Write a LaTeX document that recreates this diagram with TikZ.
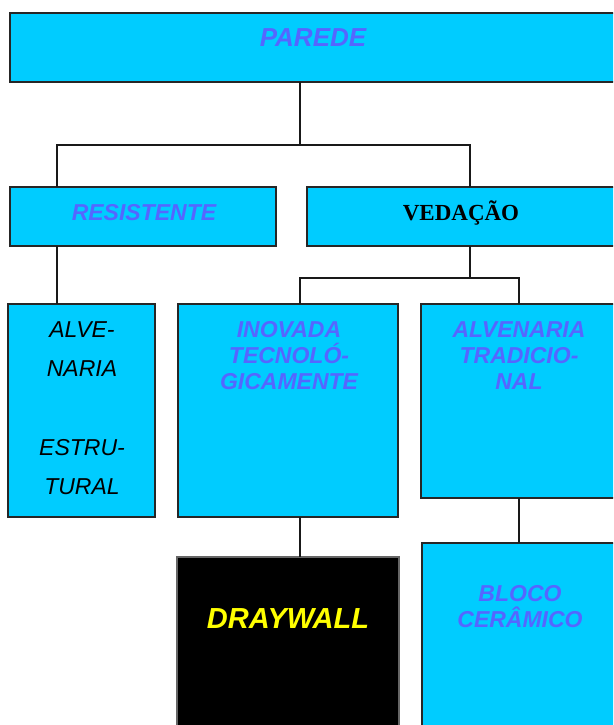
\documentclass[tikz,border=0pt]{standalone}
\usepackage{fontspec}
\setmainfont{Liberation Serif}
\newfontfamily\arialf{Liberation Sans}
\definecolor{cyanbox}{HTML}{00CCFF}
\definecolor{txtblue}{HTML}{5566FF}
\definecolor{drayyellow}{HTML}{FFFF00}
\begin{document}
\begin{tikzpicture}[x=1pt,y=-1pt,
  box/.style={draw=black!85, line width=2pt, fill=cyanbox, rectangle, inner sep=0, outer sep=0, anchor=north west},
  lbl/.style={font=\arialf\bfseries\itshape\fontsize{23}{26}\selectfont, text=txtblue, align=center, inner sep=0},
  plain/.style={font=\arialf\itshape\fontsize{23}{26}\selectfont, text=black, inner sep=0},
  conn/.style={line width=2pt, black!90}]
\useasboundingbox (0,0) rectangle (613,725);
\clip (0,0) rectangle (613,725);

% boxes
\node[box, minimum width=610pt, minimum height=69pt] (parede) at (10,13) {};
\node[box, minimum width=266pt, minimum height=59pt] (res) at (10,187) {};
\node[box, minimum width=326pt, minimum height=59pt] (ved) at (307,187) {};
\node[box, minimum width=147pt, minimum height=213pt] (alve) at (8,304) {};
\node[box, minimum width=220pt, minimum height=213pt] (inov) at (178,304) {};
\node[box, minimum width=196pt, minimum height=194pt] (alvtrad) at (421,304) {};
\node[box, fill=black, draw=black!60, minimum width=222pt, minimum height=200pt] (dray) at (177,557) {};
\node[box, minimum width=194pt, minimum height=200pt] (bloco) at (422,543) {};

% texts
\node[lbl, font=\arialf\bfseries\itshape\fontsize{26}{30}\selectfont] (paredeT) at (313,38) {PAREDE};
\node[lbl] (resT) at (144,213) {RESISTENTE};
\node[inner sep=0, font=\bfseries\fontsize{23}{26}\selectfont] (vedT) at (461,213) {VEDAÇÃO};
\node[plain] (alve1) at (82,330) {ALVE-};
\node[plain] (alve2) at (82,369) {NARIA};
\node[plain] (alve3) at (82,448) {ESTRU-};
\node[plain] (alve4) at (82,487) {TURAL};
\node[lbl] (inovT) at (289,356) {INOVADA\\TECNOLÓ-\\GICAMENTE};
\node[lbl] (alvtradT) at (519,356) {ALVENARIA\\TRADICIO-\\NAL};
\node[lbl, text=drayyellow, font=\arialf\bfseries\itshape\fontsize{29}{32}\selectfont] (drayT) at (288,619) {DRAYWALL};
\node[lbl] (blocoT) at (520,607) {BLOCO\\CERÂMICO};

% connectors
\coordinate (j0) at (300,145);
\coordinate (cres) at (57,0);
\coordinate (j1) at (470,278);
\coordinate (cinov) at (300,0);
\coordinate (ctrad) at (519,0);
\draw[conn] (parede.south -| j0) -- (j0);
\draw[conn] (res.north -| cres) |- (j0) -| (ved.north -| j1);
\draw[conn] (res.south -| cres) -- (alve.north -| cres);
\draw[conn] (ved.south -| j1) -- (j1);
\draw[conn] (inov.north -| cinov) |- (j1) -| (alvtrad.north -| ctrad);
\draw[conn] (inov.south -| cinov) -- (dray.north -| cinov);
\draw[conn] (alvtrad.south -| ctrad) -- (bloco.north -| ctrad);
\end{tikzpicture}
\end{document}
